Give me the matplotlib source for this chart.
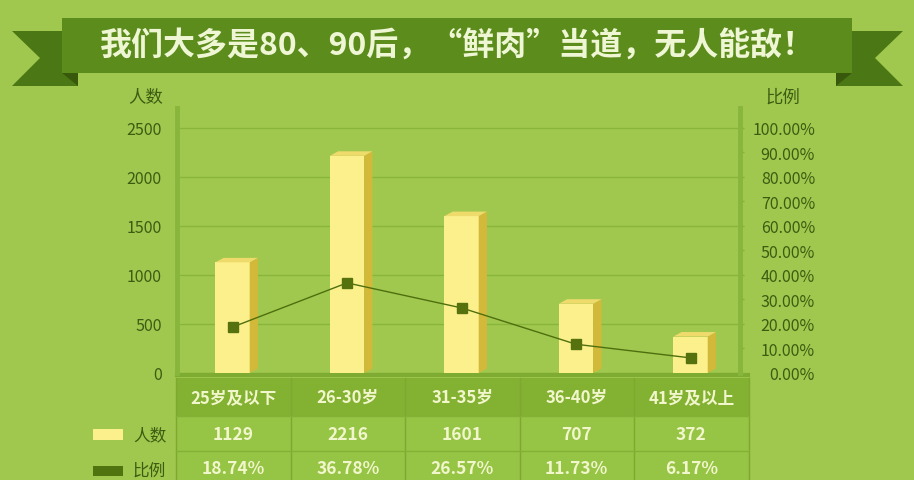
import numpy as np
import matplotlib
matplotlib.use('Agg')
import matplotlib.pyplot as plt
from matplotlib.patches import Polygon, Rectangle

plt.rcParams['font.family'] = ['Noto Sans CJK SC', 'DejaVu Sans']

title = '我们大多是80、90后，“鲜肉”当道，无人能敌！'
groups = ['25岁及以下', '26-30岁', '31-35岁', '36-40岁', '41岁及以上']
counts = [1129, 2216, 1601, 707, 372]
shares = [18.74, 36.78, 26.57, 11.73, 6.17]
left_ticks = [0, 500, 1000, 1500, 2000, 2500]
right_ticks = [0, 10, 20, 30, 40, 50, 60, 70, 80, 90, 100]

W, H = 914, 481
bg = '#a0c84e'
dark_text = '#3c5c12'
bar_front = '#fcf08c'
bar_side = '#d3b93a'
bar_top = '#eedb6c'
line_col = '#4f6f0e'


def fx(x):
    return x / W


def fy(y):
    return 1 - y / H


def main():
    fig = plt.figure(figsize=(W / 100, H / 100), dpi=100, facecolor=bg)

    # background layer in pixel coordinates
    bgax = fig.add_axes([0, 0, 1, 1], zorder=0)
    bgax.set_xlim(0, W)
    bgax.set_ylim(H, 0)
    bgax.axis('off')

    # ribbon tails, folds and banner
    bgax.add_patch(Polygon([(12, 32), (78, 32), (78, 87), (12, 87), (40, 59)],
                           color='#4b7714', lw=0))
    bgax.add_patch(Polygon([(62, 74), (78, 74), (78, 87)], color='#38590b', lw=0))
    bgax.add_patch(Polygon([(836, 32), (903, 32), (875, 59), (903, 87), (836, 87)],
                           color='#4b7714', lw=0))
    bgax.add_patch(Polygon([(836, 74), (852, 74), (836, 87)], color='#38590b', lw=0))
    bgax.add_patch(Rectangle((62, 19), 790, 55, color='#5b8c1c', lw=0))
    bgax.text(458, 47, title, ha='center', va='center', fontsize=23,
              fontweight='bold', color='#eef6d4')

    # chart
    ax = fig.add_axes([fx(177), fy(374), fx(740 - 177), (374 - 109) / H], zorder=2)
    ax.patch.set_alpha(0)
    x = np.arange(len(groups))
    ax.set_xlim(-0.485, 4.432)
    ax.set_ylim(0, 2704)
    ax.set_yticks(left_ticks)
    ax.set_yticklabels([str(v) for v in left_ticks])
    ax.tick_params(axis='y', length=0, pad=11, labelsize=11.5, labelcolor=dark_text)
    ax.set_xticks([])
    ax.grid(axis='y', color='#89b53c', lw=1)
    ax.set_axisbelow(True)
    for s in ['top', 'right', 'bottom']:
        ax.spines[s].set_visible(False)
    ax.spines['left'].set_color('#88b53c')
    ax.spines['left'].set_linewidth(3.5)

    bw = 0.3
    dx = 0.072
    dy = 46
    ax.bar(x, counts, width=bw, color=bar_front, zorder=2)
    for xi, c in zip(x, counts):
        r = xi + bw / 2
        l = xi - bw / 2
        ax.add_patch(Polygon([(r, 0), (r + dx, dy), (r + dx, c + dy), (r, c)],
                             color=bar_side, lw=0, zorder=2))
        ax.add_patch(Polygon([(l, c), (l + dx, c + dy), (r + dx, c + dy), (r, c)],
                             color=bar_top, lw=0, zorder=2))

    ax2 = ax.twinx()
    ax2.set_ylim(0, 108.16)
    ax2.set_yticks(right_ticks)
    ax2.set_yticklabels(['{:.2f}%'.format(v) for v in right_ticks])
    ax2.tick_params(axis='y', length=3, width=1, color='#86b23a', pad=51,
                    labelsize=11.5, labelcolor=dark_text)
    for lab in ax2.get_yticklabels():
        lab.set_horizontalalignment('right')
    for s in ['top', 'left', 'bottom']:
        ax2.spines[s].set_visible(False)
    ax2.spines['right'].set_color('#88b53c')
    ax2.spines['right'].set_linewidth(3.5)
    ax2.plot(x, shares, color=line_col, lw=1, marker='s', markersize=7.5,
             markerfacecolor='#55720f', markeredgecolor='#55720f', zorder=3)

    # floor line
    bgax.plot([177, 748], [375.5, 375.5], color='#7eac32', lw=3, zorder=1)

    fig.text(fx(146), fy(98), '人数', ha='center', va='center', fontsize=12.5,
             color=dark_text)
    fig.text(fx(783), fy(98), '比例', ha='center', va='center', fontsize=12.5,
             color=dark_text)

    # table under the chart
    col_w = 114.5
    t_left = 176
    rows = [379, 417, 452, 490]
    tcol = '#f2f6cc'
    bgax.add_patch(Rectangle((t_left, rows[0]), col_w * 5, rows[1] - rows[0],
                             color='#83b132', lw=0, zorder=1))
    bgax.add_patch(Rectangle((t_left, rows[1]), col_w * 5, rows[3] - rows[1],
                             color='#96c445', lw=0, zorder=1))
    for k in range(6):
        xx = t_left + k * col_w
        bgax.plot([xx, xx], [rows[0], rows[3]], color='#7ea930', lw=1, zorder=1)
    for yy in rows[1:3]:
        bgax.plot([t_left, t_left + 5 * col_w], [yy, yy], color='#84b035', lw=1, zorder=1)
    for i, g in enumerate(groups):
        cx = t_left + (i + 0.5) * col_w
        bgax.text(cx, 398, g, ha='center', va='center', fontsize=12,
                  fontweight='bold', color=tcol, zorder=3)
        bgax.text(cx, 435, str(counts[i]), ha='center', va='center', fontsize=12.5,
                  fontweight='bold', color=tcol, zorder=3)
        bgax.text(cx, 469, '{:.2f}%'.format(shares[i]), ha='center', va='center',
                  fontsize=12.5, fontweight='bold', color=tcol, zorder=3)

    # legend keys
    bgax.add_patch(Rectangle((93, 430), 30, 11, color=bar_front, lw=0))
    bgax.text(133, 436, '人数', ha='left', va='center', fontsize=12, color=dark_text)
    bgax.add_patch(Rectangle((93, 467), 30, 10, color='#4f730f', lw=0))
    bgax.text(133, 471, '比例', ha='left', va='center', fontsize=12, color=dark_text)

    fig.savefig('out.png', dpi=100, facecolor=bg)


if __name__ == '__main__':
    main()
